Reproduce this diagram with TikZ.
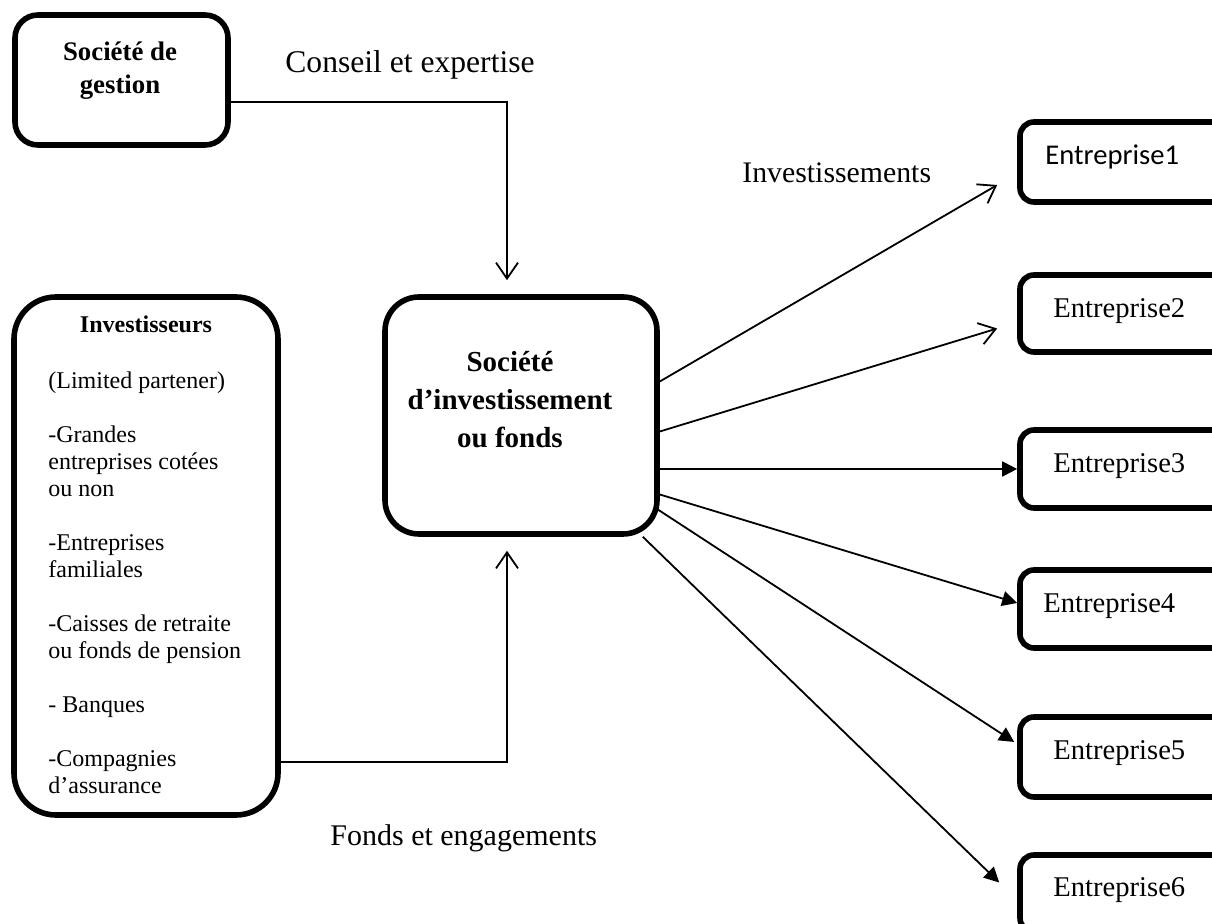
\documentclass[tikz,border=0pt]{standalone}
\usepackage{fontspec}
\setmainfont{Liberation Serif}
\newfontfamily\calibfont{Carlito}
\usetikzlibrary{arrows.meta,calc}
\begin{document}
\begin{tikzpicture}[x=0.5pt,y=-0.5pt,
  box/.style={draw, line width=2.8pt, rounded corners=#1, inner sep=0pt},
  ebox/.style={box=7pt, minimum width=115pt},
  conn/.style={line width=0.9pt},
  openarr/.style={conn, -{Straight Barb[length=8pt,width=11pt]}},
  fillarr/.style={conn, -{Triangle[length=7.5pt,width=7.5pt]}},
  lbl/.style={anchor=base west, inner sep=0pt},
  etext/.style={anchor=base west, inner sep=0pt, font=\fontsize{14.3}{17}\selectfont}
]
\clip (0,0) rectangle (1212,924);
\fill[white] (0,0) rectangle (1212,924);

% boxes
\node[box=11.5pt, minimum width=106.5pt, minimum height=65pt] (gest) at (121.5,80) {};
\node[box=17pt, minimum width=136pt, minimum height=118.5pt] (cen) at (521,415.5) {};
\node[box=21pt, minimum width=132pt, minimum height=259pt] (inv) at (146,556) {};
\node[ebox, minimum height=40pt] (e1) at (1135,162) {};
\node[ebox, minimum height=38.5pt] (e2) at (1135,313.5) {};
\node[ebox, minimum height=39pt] (e3) at (1135,469) {};
\node[ebox, minimum height=39pt] (e4) at (1135,609) {};
\node[ebox, minimum height=40pt] (e5) at (1135,757) {};
\node[ebox, minimum height=38.5pt] (e6) at (1135,893.5) {};

% box texts
\node[font=\bfseries\fontsize{13.4}{16.5}\selectfont, align=center] (gestT) at (120,71) {Société de\\gestion};
\node[font=\bfseries\fontsize{14.5}{19}\selectfont, align=center] (cenT) at (510,400) {Société\\d’investissement\\ou fonds};
\node[font=\bfseries\fontsize{12}{13.5}\selectfont, anchor=base] (invT) at (146,333) {Investisseurs};
\node[font=\fontsize{12}{13.5}\selectfont, align=left, anchor=north west, inner sep=0pt] (invL) at (48,371)
 {(Limited partener)\\[13.5pt]
  -Grandes\\entreprises cotées\\ou non\\[13.5pt]
  -Entreprises\\familiales\\[13.5pt]
  -Caisses de retraite\\ou fonds de pension\\[13.5pt]
  - Banques\\[13.5pt]
  -Compagnies\\d’assurance};

\node[etext, font=\calibfont\fontsize{14.3}{17}\selectfont] (t1) at (1045,165) {Entreprise1};
\node[etext] (t2) at (1053,318) {Entreprise2};
\node[etext] (t3) at (1053,473) {Entreprise3};
\node[etext] (t4) at (1043,613) {Entreprise4};
\node[etext] (t5) at (1053,760) {Entreprise5};
\node[etext] (t6) at (1053,897) {Entreprise6};

% labels
\node[lbl, font=\fontsize{15.8}{18}\selectfont] (lc) at (285,73) {Conseil et expertise};
\node[lbl, font=\fontsize{14.9}{18}\selectfont] (li) at (742,183) {Investissements};
\node[lbl, font=\fontsize{15}{18}\selectfont] (lf) at (330,846) {Fonds et engagements};

% connectors
\draw[openarr] ($(gest.east)+(0,22)$) -| ($(cen.north)+(-14,-14)$);
\draw[openarr] ($(inv.east)+(0,206)$) -| ($(cen.south)+(-14,14)$);
\draw[openarr] ($(cen.east)+(0,-34)$) -- ($(e1.west)+(-20,23)$);
\draw[openarr] ($(cen.east)+(0,16)$) -- ($(e2.west)+(-20,15)$);
\draw[fillarr] (e3.west -| cen.east) -- (e3.west);
\draw[fillarr] ($(cen.east)+(0,79)$) -- ($(e4.west)+(0,-6)$);
\draw[fillarr] ($(cen.east)+(-2,94)$) -- ($(e5.west)+(-3,-15)$);
\draw[fillarr] ($(cen.south east)+(-17,0)$) -- ($(e6.west)+(-18,-11)$);
\end{tikzpicture}
\end{document}
